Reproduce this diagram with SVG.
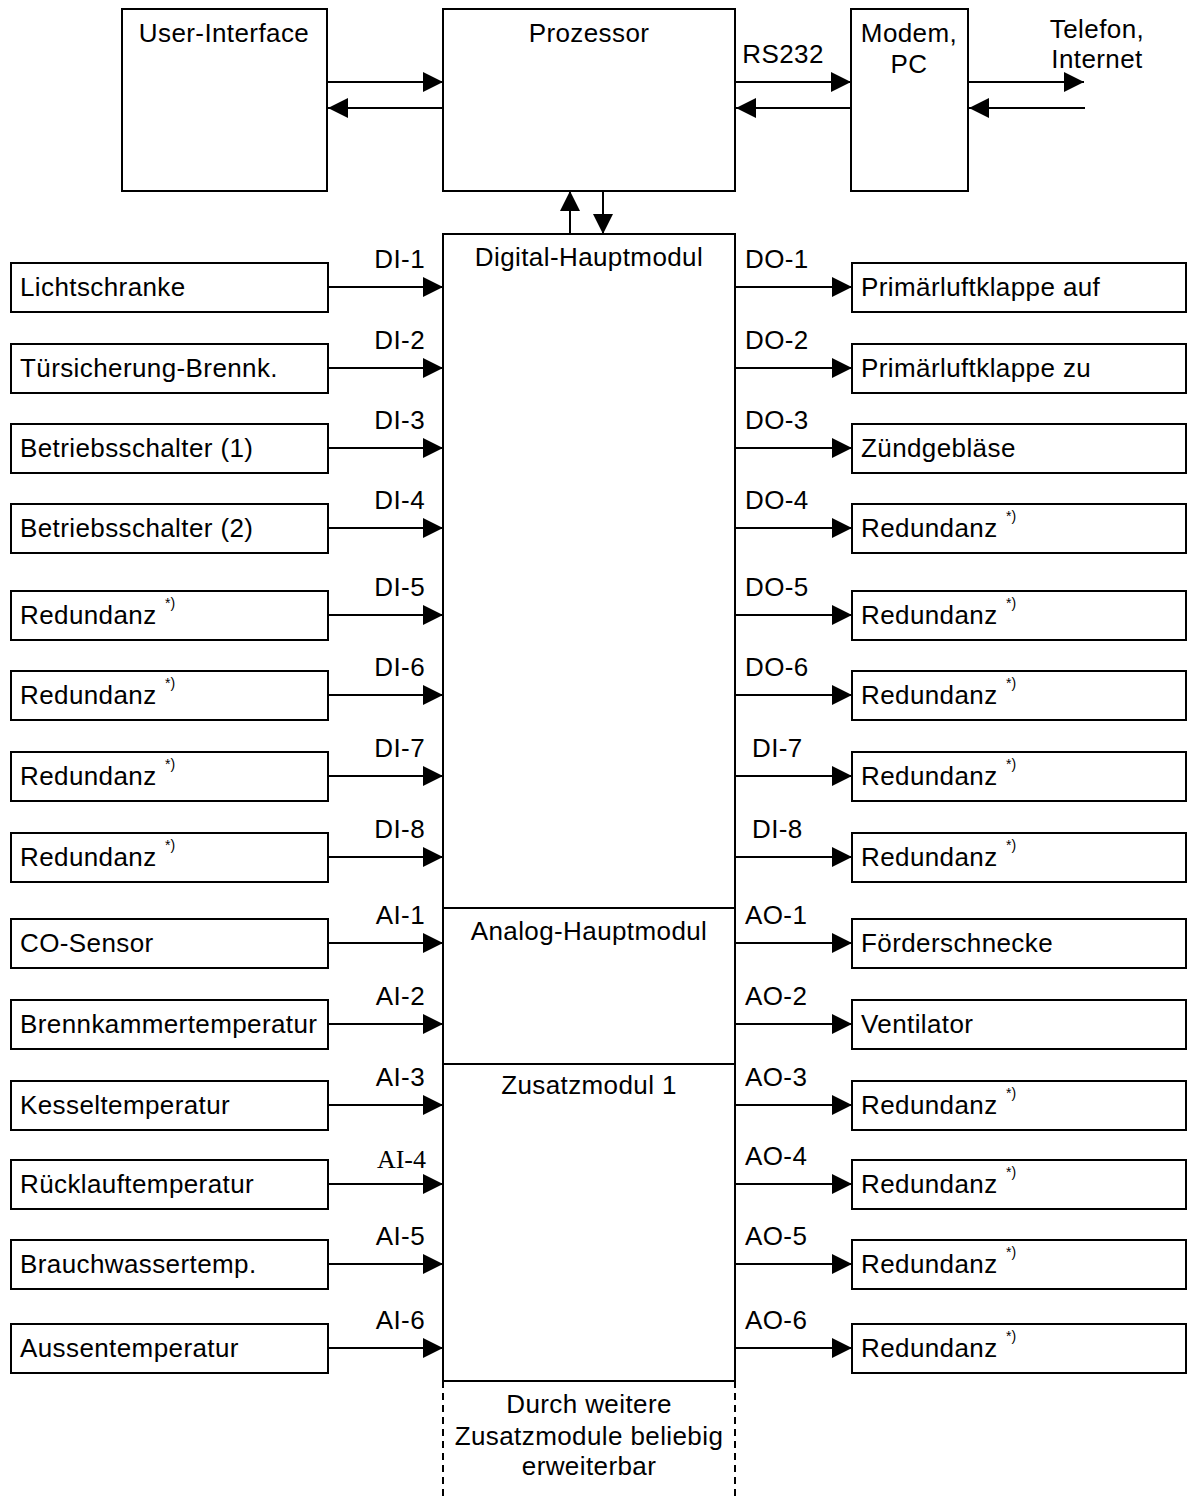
<svg xmlns="http://www.w3.org/2000/svg" width="1187" height="1499" viewBox="0 0 1187 1499">
<style>
.box{fill:#fff;stroke:#000;stroke-width:2}
.t{font-family:"Liberation Sans",Arial,sans-serif;font-size:26px;letter-spacing:0.4px;fill:#000}
.c{text-anchor:middle}
.e{text-anchor:end}
.s{font-family:"Liberation Sans",Arial,sans-serif;font-size:14px;fill:#000}
.serif{font-family:"Liberation Serif","Times New Roman",serif;font-size:26px;fill:#000;text-anchor:end}
.ln{stroke:#000;stroke-width:2;fill:none}
.dash{stroke:#000;stroke-width:2;fill:none;stroke-dasharray:7,5}
</style>
<defs>
<marker id="ah" markerUnits="userSpaceOnUse" markerWidth="20" markerHeight="20" refX="20" refY="10" orient="auto"><path d="M0,0 L20,10 L0,20 z" fill="#000"/></marker>
</defs>
<rect width="1187" height="1499" fill="#fff"/>

<g id="user-interface"><rect class="box" x="122" y="9" width="205" height="182"/><text class="t c" x="224" y="42">User-Interface</text></g>
<g id="prozessor"><rect class="box" x="443" y="9" width="292" height="182"/><text class="t c" x="589" y="42">Prozessor</text></g>
<g id="modem"><rect class="box" x="851" y="9" width="117" height="182"/><text class="t c" x="909" y="42">Modem,</text><text class="t c" x="909" y="73">PC</text></g>
<g id="telefon"><text class="t c" x="1097" y="38">Telefon,</text><text class="t c" x="1097" y="68">Internet</text></g>

<g id="hauptmodul">
<rect class="box" x="443" y="234" width="292" height="1147"/>
<line class="ln" x1="443" y1="908" x2="735" y2="908"/>
<line class="ln" x1="443" y1="1064" x2="735" y2="1064"/>
<text class="t c" x="589" y="266">Digital-Hauptmodul</text>
<text class="t c" x="589" y="940">Analog-Hauptmodul</text>
<text class="t c" x="589" y="1094">Zusatzmodul 1</text>
<line class="dash" x1="443" y1="1381" x2="443" y2="1499"/>
<line class="dash" x1="735" y1="1381" x2="735" y2="1499"/>
<text class="t c" x="589" y="1413">Durch weitere</text>
<text class="t c" x="589" y="1445">Zusatzmodule beliebig</text>
<text class="t c" x="589" y="1475">erweiterbar</text>
</g>

<g id="inputs">
<g id="in1"><rect class="box" x="11" y="263" width="317" height="49"/><text class="t" x="20" y="296">Lichtschranke</text></g>
<g id="in2"><rect class="box" x="11" y="344" width="317" height="49"/><text class="t" x="20" y="377">Türsicherung-Brennk.</text></g>
<g id="in3"><rect class="box" x="11" y="424" width="317" height="49"/><text class="t" x="20" y="457">Betriebsschalter (1)</text></g>
<g id="in4"><rect class="box" x="11" y="504" width="317" height="49"/><text class="t" x="20" y="537">Betriebsschalter (2)</text></g>
<g id="in5"><rect class="box" x="11" y="591" width="317" height="49"/><text class="t" x="20" y="624">Redundanz</text><text class="s" x="165" y="608">*)</text></g>
<g id="in6"><rect class="box" x="11" y="671" width="317" height="49"/><text class="t" x="20" y="704">Redundanz</text><text class="s" x="165" y="688">*)</text></g>
<g id="in7"><rect class="box" x="11" y="752" width="317" height="49"/><text class="t" x="20" y="785">Redundanz</text><text class="s" x="165" y="769">*)</text></g>
<g id="in8"><rect class="box" x="11" y="833" width="317" height="49"/><text class="t" x="20" y="866">Redundanz</text><text class="s" x="165" y="850">*)</text></g>
<g id="in9"><rect class="box" x="11" y="919" width="317" height="49"/><text class="t" x="20" y="952">CO-Sensor</text></g>
<g id="in10"><rect class="box" x="11" y="1000" width="317" height="49"/><text class="t" x="20" y="1033">Brennkammertemperatur</text></g>
<g id="in11"><rect class="box" x="11" y="1081" width="317" height="49"/><text class="t" x="20" y="1114">Kesseltemperatur</text></g>
<g id="in12"><rect class="box" x="11" y="1160" width="317" height="49"/><text class="t" x="20" y="1193">Rücklauftemperatur</text></g>
<g id="in13"><rect class="box" x="11" y="1240" width="317" height="49"/><text class="t" x="20" y="1273">Brauchwassertemp.</text></g>
<g id="in14"><rect class="box" x="11" y="1324" width="317" height="49"/><text class="t" x="20" y="1357">Aussentemperatur</text></g>
</g>

<g id="outputs">
<g id="out1"><rect class="box" x="852" y="263" width="334" height="49"/><text class="t" x="861" y="296">Primärluftklappe auf</text></g>
<g id="out2"><rect class="box" x="852" y="344" width="334" height="49"/><text class="t" x="861" y="377">Primärluftklappe zu</text></g>
<g id="out3"><rect class="box" x="852" y="424" width="334" height="49"/><text class="t" x="861" y="457">Zündgebläse</text></g>
<g id="out4"><rect class="box" x="852" y="504" width="334" height="49"/><text class="t" x="861" y="537">Redundanz</text><text class="s" x="1006" y="521">*)</text></g>
<g id="out5"><rect class="box" x="852" y="591" width="334" height="49"/><text class="t" x="861" y="624">Redundanz</text><text class="s" x="1006" y="608">*)</text></g>
<g id="out6"><rect class="box" x="852" y="671" width="334" height="49"/><text class="t" x="861" y="704">Redundanz</text><text class="s" x="1006" y="688">*)</text></g>
<g id="out7"><rect class="box" x="852" y="752" width="334" height="49"/><text class="t" x="861" y="785">Redundanz</text><text class="s" x="1006" y="769">*)</text></g>
<g id="out8"><rect class="box" x="852" y="833" width="334" height="49"/><text class="t" x="861" y="866">Redundanz</text><text class="s" x="1006" y="850">*)</text></g>
<g id="out9"><rect class="box" x="852" y="919" width="334" height="49"/><text class="t" x="861" y="952">Förderschnecke</text></g>
<g id="out10"><rect class="box" x="852" y="1000" width="334" height="49"/><text class="t" x="861" y="1033">Ventilator</text></g>
<g id="out11"><rect class="box" x="852" y="1081" width="334" height="49"/><text class="t" x="861" y="1114">Redundanz</text><text class="s" x="1006" y="1098">*)</text></g>
<g id="out12"><rect class="box" x="852" y="1160" width="334" height="49"/><text class="t" x="861" y="1193">Redundanz</text><text class="s" x="1006" y="1177">*)</text></g>
<g id="out13"><rect class="box" x="852" y="1240" width="334" height="49"/><text class="t" x="861" y="1273">Redundanz</text><text class="s" x="1006" y="1257">*)</text></g>
<g id="out14"><rect class="box" x="852" y="1324" width="334" height="49"/><text class="t" x="861" y="1357">Redundanz</text><text class="s" x="1006" y="1341">*)</text></g>
</g>

<g id="connectors">
<line class="ln" x1="327" y1="82" x2="443" y2="82" marker-end="url(#ah)"/>
<line class="ln" x1="443" y1="108" x2="328" y2="108" marker-end="url(#ah)"/>
<line class="ln" x1="735" y1="82" x2="851" y2="82" marker-end="url(#ah)"/>
<line class="ln" x1="851" y1="108" x2="736" y2="108" marker-end="url(#ah)"/>
<text class="t c" x="783" y="63">RS232</text>
<line class="ln" x1="968" y1="82" x2="1084" y2="82" marker-end="url(#ah)"/>
<line class="ln" x1="1085" y1="108" x2="969" y2="108" marker-end="url(#ah)"/>
<line class="ln" x1="570" y1="234" x2="570" y2="191" marker-end="url(#ah)"/>
<line class="ln" x1="603" y1="191" x2="603" y2="234" marker-end="url(#ah)"/>

<line class="ln" x1="328" y1="287" x2="443" y2="287" marker-end="url(#ah)"/>
<line class="ln" x1="328" y1="368" x2="443" y2="368" marker-end="url(#ah)"/>
<line class="ln" x1="328" y1="448" x2="443" y2="448" marker-end="url(#ah)"/>
<line class="ln" x1="328" y1="528" x2="443" y2="528" marker-end="url(#ah)"/>
<line class="ln" x1="328" y1="615" x2="443" y2="615" marker-end="url(#ah)"/>
<line class="ln" x1="328" y1="695" x2="443" y2="695" marker-end="url(#ah)"/>
<line class="ln" x1="328" y1="776" x2="443" y2="776" marker-end="url(#ah)"/>
<line class="ln" x1="328" y1="857" x2="443" y2="857" marker-end="url(#ah)"/>
<line class="ln" x1="328" y1="943" x2="443" y2="943" marker-end="url(#ah)"/>
<line class="ln" x1="328" y1="1024" x2="443" y2="1024" marker-end="url(#ah)"/>
<line class="ln" x1="328" y1="1105" x2="443" y2="1105" marker-end="url(#ah)"/>
<line class="ln" x1="328" y1="1184" x2="443" y2="1184" marker-end="url(#ah)"/>
<line class="ln" x1="328" y1="1264" x2="443" y2="1264" marker-end="url(#ah)"/>
<line class="ln" x1="328" y1="1348" x2="443" y2="1348" marker-end="url(#ah)"/>

<line class="ln" x1="735" y1="287" x2="852" y2="287" marker-end="url(#ah)"/>
<line class="ln" x1="735" y1="368" x2="852" y2="368" marker-end="url(#ah)"/>
<line class="ln" x1="735" y1="448" x2="852" y2="448" marker-end="url(#ah)"/>
<line class="ln" x1="735" y1="528" x2="852" y2="528" marker-end="url(#ah)"/>
<line class="ln" x1="735" y1="615" x2="852" y2="615" marker-end="url(#ah)"/>
<line class="ln" x1="735" y1="695" x2="852" y2="695" marker-end="url(#ah)"/>
<line class="ln" x1="735" y1="776" x2="852" y2="776" marker-end="url(#ah)"/>
<line class="ln" x1="735" y1="857" x2="852" y2="857" marker-end="url(#ah)"/>
<line class="ln" x1="735" y1="943" x2="852" y2="943" marker-end="url(#ah)"/>
<line class="ln" x1="735" y1="1024" x2="852" y2="1024" marker-end="url(#ah)"/>
<line class="ln" x1="735" y1="1105" x2="852" y2="1105" marker-end="url(#ah)"/>
<line class="ln" x1="735" y1="1184" x2="852" y2="1184" marker-end="url(#ah)"/>
<line class="ln" x1="735" y1="1264" x2="852" y2="1264" marker-end="url(#ah)"/>
<line class="ln" x1="735" y1="1348" x2="852" y2="1348" marker-end="url(#ah)"/>

<text class="t e" x="425" y="268">DI-1</text>
<text class="t e" x="425" y="349">DI-2</text>
<text class="t e" x="425" y="429">DI-3</text>
<text class="t e" x="425" y="509">DI-4</text>
<text class="t e" x="425" y="596">DI-5</text>
<text class="t e" x="425" y="676">DI-6</text>
<text class="t e" x="425" y="757">DI-7</text>
<text class="t e" x="425" y="838">DI-8</text>
<text class="t e" x="425" y="924">AI-1</text>
<text class="t e" x="425" y="1005">AI-2</text>
<text class="t e" x="425" y="1086">AI-3</text>
<text class="serif" x="426" y="1168">AI-4</text>
<text class="t e" x="425" y="1245">AI-5</text>
<text class="t e" x="425" y="1329">AI-6</text>

<text class="t" x="745" y="268">DO-1</text>
<text class="t" x="745" y="349">DO-2</text>
<text class="t" x="745" y="429">DO-3</text>
<text class="t" x="745" y="509">DO-4</text>
<text class="t" x="745" y="596">DO-5</text>
<text class="t" x="745" y="676">DO-6</text>
<text class="t" x="752" y="757">DI-7</text>
<text class="t" x="752" y="838">DI-8</text>
<text class="t" x="745" y="924">AO-1</text>
<text class="t" x="745" y="1005">AO-2</text>
<text class="t" x="745" y="1086">AO-3</text>
<text class="t" x="745" y="1165">AO-4</text>
<text class="t" x="745" y="1245">AO-5</text>
<text class="t" x="745" y="1329">AO-6</text>
</g>
</svg>
